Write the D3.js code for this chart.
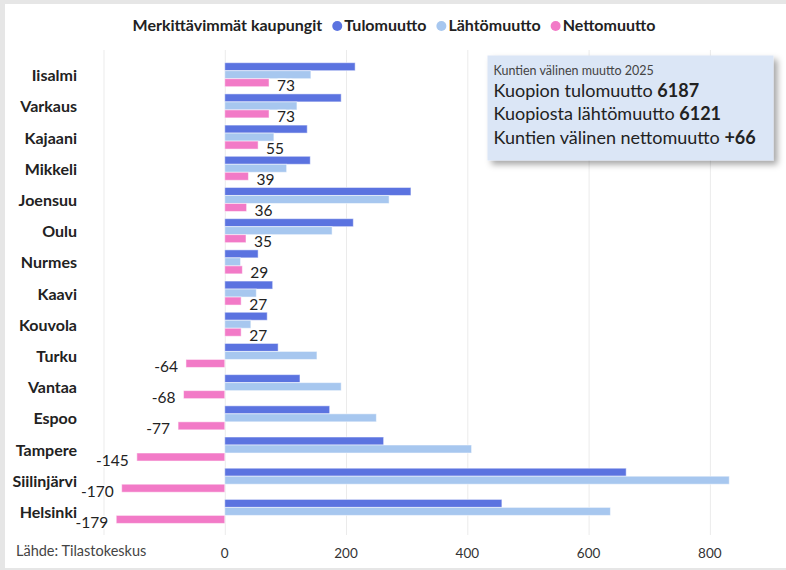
<!DOCTYPE html>
<html>
<head>
<meta charset="utf-8">
<script src="https://cdn.jsdelivr.net/npm/d3@7"></script>
<style>
  body { margin: 0; background: #e6e6e6; }
  svg { display: block; font-family: Lato, "Open Sans", sans-serif; }
</style>
</head>
<body>
<div id="chart"></div>
<script>
// Kuntien välinen muutto – Kuopion merkittävimmät kaupungit

const W = 786, H = 570

const cities = ['Iisalmi', 'Varkaus', 'Kajaani', 'Mikkeli', 'Joensuu', 'Oulu', 'Nurmes',
                'Kaavi', 'Kouvola', 'Turku', 'Vantaa', 'Espoo', 'Tampere', 'Siilinjärvi', 'Helsinki']
const tulo   = [215, 192, 136, 141, 307, 212, 55, 79, 70, 88, 124, 173, 262, 662, 457]
const lahto  = [142, 119,  81, 102, 271, 177, 26, 52, 43, 152, 192, 250, 407, 832, 636]
const netto  = [ 73,  73,  55,  39,  36,  35, 29, 27, 27, -64, -68, -77, -145, -170, -179]

const seriesNames  = ['Tulomuutto', 'Lähtömuutto', 'Nettomuutto']
const seriesColors = ['#5b73e0', '#a7c7ef', '#f27ac7']
const xTicks = [-200, 0, 200, 400, 600, 800]
const xTickLabels = ['', '0', '200', '400', '600', '800']

const tipTitle = 'Kuntien välinen muutto 2025'
const tipLines = [['Kuopion tulomuutto ', '6187'],
                  ['Kuopiosta lähtömuutto ', '6121'],
                  ['Kuntien välinen nettomuutto ', '+66']]

const PL = 103.5, PR = 770.5, PT = 50, PB = 535 // plot area

const svg = d3.select('#chart').append('svg').attr('width', W).attr('height', H)

// white card inside the grey frame
svg.append('rect').attr('x', 5).attr('y', 4).attr('width', W - 5).attr('height', H - 6)
  .attr('fill', '#fff')

const x  = d3.scaleLinear([-200, 900], [PL, PR])
const y0 = d3.scaleBand(cities, [59.1, 527])
const y1 = d3.scaleBand(d3.range(3), [(y0.bandwidth() - 24) / 2, (y0.bandwidth() + 24) / 2])

// grid
svg.append('g').selectAll('line').data(xTicks).join('line')
  .attr('x1', d => x(d) + 0.5).attr('x2', d => x(d) + 0.5)
  .attr('y1', PT).attr('y2', PB)
  .attr('stroke', '#ebebeb').attr('stroke-width', 1)

// x axis tick labels
svg.append('g').selectAll('text').data(xTicks).join('text')
  .attr('x', d => x(d)).attr('y', 558)
  .attr('text-anchor', 'middle').attr('font-size', 13.5).attr('fill', '#333')
  .text((d, i) => xTickLabels[i])

// category labels
svg.append('g').selectAll('text').data(cities).join('text')
  .attr('x', 77).attr('y', d => y0(d) + y0.bandwidth() / 2 + 6.5)
  .attr('text-anchor', 'end').attr('font-size', 16).attr('font-weight', 700).attr('fill', '#222')
  .text(d => d)

// bars
const rows = cities.map((c, i) => [tulo[i], lahto[i], netto[i]])
const groups = svg.append('g').selectAll('g').data(rows).join('g')
  .attr('transform', (d, i) => `translate(0,${y0(cities[i])})`)

groups.selectAll('rect').data(d => d).join('rect')
  .attr('x', d => x(Math.min(0, d)))
  .attr('width', d => Math.abs(x(d) - x(0)))
  .attr('y', (d, j) => y1(j))
  .attr('height', y1.bandwidth())
  .attr('fill', (d, j) => seriesColors[j])
  .attr('stroke', 'rgba(255,255,255,0.5)').attr('stroke-width', 1)

// data labels on the net series
svg.append('g').selectAll('text').data(netto).join('text')
  .attr('x', d => d >= 0 ? x(d) + 8 : x(d) - 8)
  .attr('y', (d, i) => y0(cities[i]) + y1(2) + y1.bandwidth() / 2 + 8.5)
  .attr('text-anchor', d => d >= 0 ? 'start' : 'end')
  .attr('font-size', 15.5).attr('fill', '#222')
  .attr('stroke', '#fff').attr('stroke-width', 2.5).attr('paint-order', 'stroke')
  .attr('stroke-linejoin', 'round')
  .text(d => d)

// legend
const leg = svg.append('g')
const legTitle = leg.append('text').attr('y', 31).attr('font-size', 16).attr('font-weight', 700)
  .attr('fill', '#222').text('Merkittävimmät kaupungit')
let lx = legTitle.node().getComputedTextLength() + 10
seriesNames.forEach((s, i) => {
  leg.append('circle').attr('cx', lx + 5).attr('cy', 26).attr('r', 5).attr('fill', seriesColors[i])
  const t = leg.append('text').attr('x', lx + 12).attr('y', 31).attr('font-size', 16)
    .attr('font-weight', 700).attr('fill', '#222').text(s)
  lx += 12 + t.node().getComputedTextLength() + 10
})
leg.attr('transform', `translate(${394 - (lx - 10) / 2},0)`)

// info box
const defs = svg.append('defs')
const f = defs.append('filter').attr('id', 'shadow')
  .attr('x', '-10%').attr('y', '-10%').attr('width', '130%').attr('height', '140%')
f.append('feDropShadow').attr('dx', 4).attr('dy', 4).attr('stdDeviation', 3)
  .attr('flood-color', '#000').attr('flood-opacity', 0.35)

const tip = svg.append('g').attr('transform', 'translate(487.5,55.5)')
tip.append('rect').attr('width', 286).attr('height', 105)
  .attr('fill', '#dbe6f6').attr('filter', 'url(#shadow)')
tip.append('text').attr('x', 6).attr('y', 19).attr('font-size', 12.5).attr('fill', '#444')
  .text(tipTitle)
tipLines.forEach((l, i) => {
  const t = tip.append('text').attr('x', 6).attr('y', 41 + i * 23.5)
    .attr('font-size', 18).attr('fill', '#222')
  t.append('tspan').text(l[0])
  t.append('tspan').attr('font-weight', 700).text(l[1])
})

// source
svg.append('text').attr('x', 16).attr('y', 556).attr('font-size', 14.5).attr('fill', '#444')
  .text('Lähde: Tilastokeskus')
</script>
</body>
</html>
